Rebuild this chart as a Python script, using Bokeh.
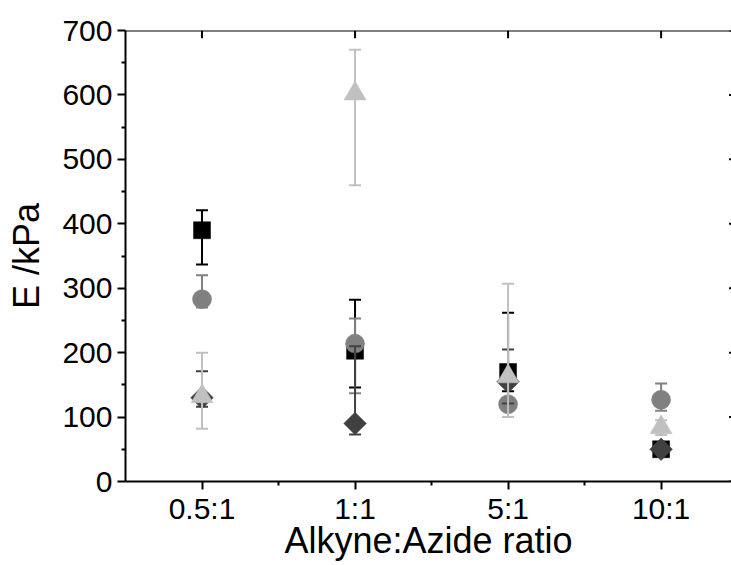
from bokeh.plotting import figure
from bokeh.models import Range1d, FixedTicker, Span
from bokeh.embed import file_html
from bokeh.resources import INLINE

categories = ["0.5:1", "1:1", "5:1", "10:1"]
x_pos = [1, 2, 3, 4]

square_val = [390, 203, 170, 50]
square_up = [421, 282, 262, 56]
square_lo = [337, 146, 140, 44]

circle_val = [283, 214, 120, 127]
circle_up = [320, 253, 128, 152]
circle_lo = [270, 137, 112, 110]

diamond_val = [130, 90, 155, 50]
diamond_up = [171, 210, 205, 58]
diamond_lo = [116, 73, 121, 44]

triangle_val = [132, 602, 163, 84]
triangle_up = [200, 670, 307, 95]
triangle_lo = [82, 460, 100, 72]

y_ticks = [0, 100, 200, 300, 400, 500, 600, 700]
y_minor = [50, 150, 250, 350, 450, 550, 650]

FONT = "Liberation Sans"
X_END = 4.46

p = figure(width=731, height=565, x_range=Range1d(0.5, X_END), y_range=Range1d(0, 700),
           output_backend="svg", toolbar_location=None,
           min_border_left=125, min_border_top=30, min_border_bottom=84, min_border_right=0)
p.outline_line_color = None
p.xgrid.visible = False
p.ygrid.visible = False
p.background_fill_color = "white"
p.border_fill_color = "white"

# bottom axis
xa = p.xaxis[0]
xa.ticker = FixedTicker(ticks=x_pos, minor_ticks=[1.5, 2.5, 3.5])
xa.bounds = (0.5, 4.68)
xa.major_label_overrides = {x: c for x, c in zip(x_pos, categories)}
xa.major_label_text_font = FONT
xa.major_label_text_font_size = "30px"
xa.major_label_text_color = "black"
xa.major_label_standoff = 2
xa.axis_label = "Alkyne:Azide ratio"
xa.axis_label_text_font = FONT
xa.axis_label_text_font_size = "36px"
xa.axis_label_text_font_style = "normal"
xa.axis_label_text_color = "black"
xa.axis_label_standoff = -8
xa.axis_line_width = 2
xa.major_tick_line_width = 2
xa.minor_tick_line_width = 2
xa.major_tick_out = 8
xa.major_tick_in = 0
xa.minor_tick_out = 4
xa.minor_tick_in = 0

# left axis
ya = p.yaxis[0]
ya.ticker = FixedTicker(ticks=y_ticks, minor_ticks=y_minor)
ya.major_label_text_font = FONT
ya.major_label_text_font_size = "30px"
ya.major_label_text_color = "black"
ya.major_label_standoff = 5
ya.axis_label = "E /kPa"
ya.axis_label_text_font = FONT
ya.axis_label_text_font_size = "36px"
ya.axis_label_text_font_style = "normal"
ya.axis_label_text_color = "black"
ya.axis_label_standoff = 12
ya.axis_line_width = 2
ya.major_tick_line_width = 2
ya.minor_tick_line_width = 2
ya.major_tick_out = 8
ya.major_tick_in = 0
ya.minor_tick_out = 4
ya.minor_tick_in = 0

# top frame line with inward ticks at the categories
p.add_layout(Span(location=700, dimension="width", line_color="black", line_width=2))
p.segment(x0=x_pos, y0=[700] * 4, x1=x_pos, y1=[688] * 4, line_color="black", line_width=2)
# small inward ticks at right edge (right axis lies outside the view)
p.segment(x0=[X_END - 0.016] * len(y_ticks), y0=y_ticks, x1=[X_END] * len(y_ticks), y1=y_ticks,
          line_color="black", line_width=2)

series = [
    (square_val, square_up, square_lo, "#000000", "square", 17, 0),
    (circle_val, circle_up, circle_lo, "#808080", "circle", 19, 0),
    (diamond_val, diamond_up, diamond_lo, "#404040", "square", 16, 0.785398),
    (triangle_val, triangle_up, triangle_lo, "#c0c0c0", "triangle", 22, 0),
]

for vals, ups, los, col, mk, sz, ang in series:
    p.segment(x0=x_pos, y0=los, x1=x_pos, y1=ups, line_color=col, line_width=2)
    p.scatter(x=x_pos, y=ups, marker="dash", size=12, line_color=col, line_width=2)
    p.scatter(x=x_pos, y=los, marker="dash", size=12, line_color=col, line_width=2)
    p.scatter(x=x_pos, y=vals, marker=mk, size=sz, angle=ang, fill_color=col,
              line_color=col, line_width=0.5)

open("out.html", "w").write(file_html(p, INLINE))
